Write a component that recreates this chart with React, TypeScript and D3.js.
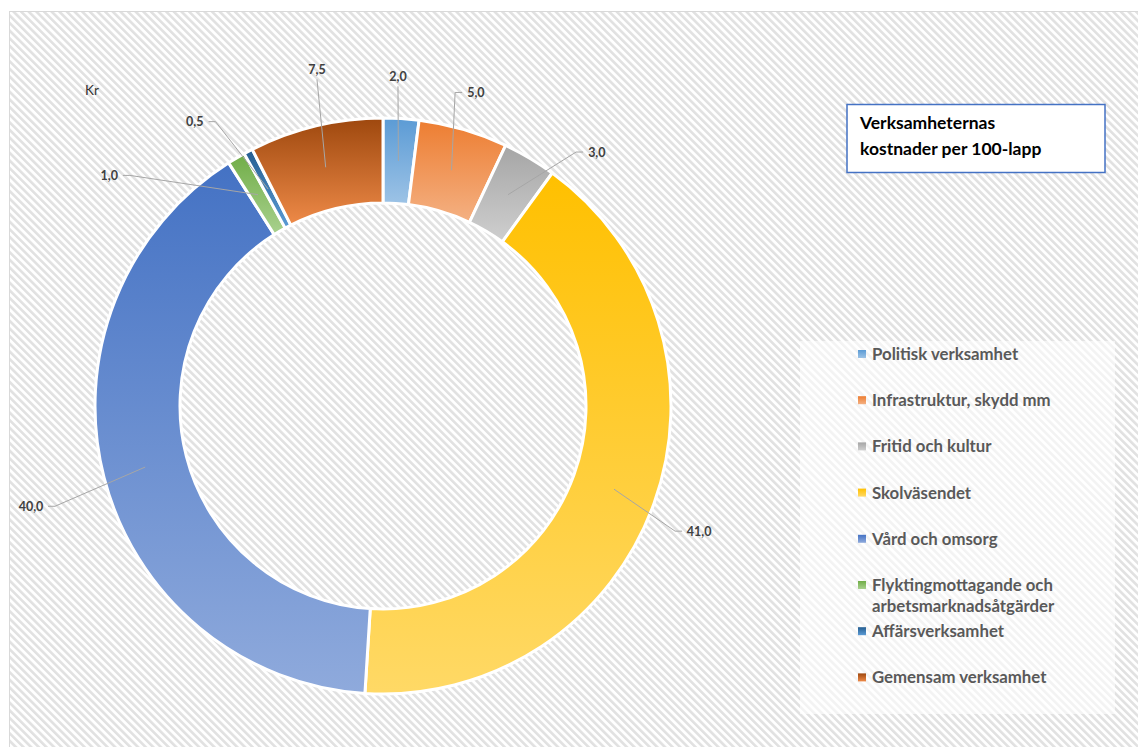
import React from "react";
import * as d3 from "d3";

// ---- data ----
const categories = [
  "Politisk verksamhet",
  "Infrastruktur, skydd mm",
  "Fritid och kultur",
  "Skolväsendet",
  "Vård och omsorg",
  "Flyktingmottagande och arbetsmarknadsåtgärder",
  "Affärsverksamhet",
  "Gemensam verksamhet",
];
const values = [2.0, 5.0, 3.0, 41.0, 40.0, 1.0, 0.5, 7.5];
const title = ["Verksamheternas", "kostnader per 100-lapp"];
const unitLabel = "Kr";

// ---- styling ----
const colorTop = ["#5B9BD5", "#ED7D31", "#A5A5A5", "#FFC000", "#4472C4", "#70AD47", "#255E91", "#9E480E"];
const colorBottom = ["#9DC3E6", "#F4B183", "#CFCFCF", "#FFD966", "#8FAADC", "#A9D18E", "#5B9BD5", "#EE8A48"];

// label layout (angle shift in degrees relative to slice middle, radius from centre)
const labelAngleShift = [-1.0, 0.3, 9.5, 1.8, -1.5, -19.3, -5.6, 2.4];
const labelRadius = [330, 327, 332, 340, 366, 358, 341, 343];

const W = 1138;
const H = 747;
const cx = 383;
const cy = 406;
const outerR = 288;
const innerR = 203;

const fmt = (v: number) => v.toFixed(1).replace(".", ",");

function wrap(text: string, maxChars: number): string[] {
  const words = text.split(" ");
  const lines: string[] = [];
  let cur = "";
  for (const w of words) {
    const next = cur ? cur + " " + w : w;
    if (next.length > maxChars && cur) {
      lines.push(cur);
      cur = w;
    } else cur = next;
  }
  if (cur) lines.push(cur);
  return lines;
}

export default function App() {
  const pie = d3
    .pie<number>()
    .sort(null)
    .value((d) => d)
    .startAngle(0)
    .endAngle(2 * Math.PI);
  const arcs = pie(values);
  const arc = d3.arc<d3.PieArcDatum<number>>().innerRadius(innerR).outerRadius(outerR);
  const midArc = d3
    .arc<d3.PieArcDatum<number>>()
    .innerRadius((innerR + outerR) / 2)
    .outerRadius((innerR + outerR) / 2);

  const labelFont = "Lato, 'Open Sans', sans-serif";

  return (
    <svg
      width={W}
      height={H}
      viewBox={`0 0 ${W} ${H}`}
      style={{ position: "absolute", left: 0, top: 0, background: "#fff" }}
    >
      <defs>
        <pattern
          id="stripes"
          width="5.4"
          height="10"
          patternUnits="userSpaceOnUse"
          patternTransform="rotate(-45)"
        >
          <rect width="5.4" height="10" fill="#ffffff" />
          <rect width="2.6" height="10" fill="#e1e1e1" />
        </pattern>
        {values.map((_, i) => (
          <linearGradient key={i} id={`g${i}`} x1="0" y1="0" x2="0" y2="1">
            <stop offset="0" stopColor={colorTop[i]} />
            <stop offset="1" stopColor={colorBottom[i]} />
          </linearGradient>
        ))}
      </defs>

      {/* chart area */}
      <rect x={9.5} y={11.5} width={1140} height={750} fill="url(#stripes)" stroke="#d9d9d9" strokeWidth={1} />

      {/* donut */}
      <g transform={`translate(${cx},${cy})`}>
        {arcs.map((a, i) => (
          <path key={i} d={arc(a) || ""} fill={`url(#g${i})`} stroke="#ffffff" strokeWidth={3} strokeLinejoin="round" />
        ))}
      </g>

      {/* data labels + leader lines */}
      <g transform={`translate(${cx},${cy})`}>
        {arcs.map((a, i) => {
          const mid = (a.startAngle + a.endAngle) / 2;
          const [sx, sy] = midArc.centroid(a);
          const ang = mid + (labelAngleShift[i] * Math.PI) / 180;
          const lx = labelRadius[i] * Math.sin(ang);
          const ly = -labelRadius[i] * Math.cos(ang);
          const txt = fmt(values[i]);
          const hw = (txt.length * 6.5) / 2;
          let pts: [number, number][];
          if (Math.abs(Math.sin(ang)) < 0.22 && ly < 0) {
            pts = [
              [sx, sy],
              [lx, ly + 10],
            ];
          } else if (lx > 0) {
            pts = [
              [sx, sy],
              [lx - hw - 11, ly],
              [lx - hw - 4, ly],
            ];
          } else {
            pts = [
              [sx, sy],
              [lx + hw + 11, ly],
              [lx + hw + 4, ly],
            ];
          }
          const line = d3.line()(pts) || "";
          return (
            <g key={i}>
              <path d={line} fill="none" stroke="#a6a6a6" strokeWidth={1} />
              <text
                x={lx}
                y={ly}
                dy="0.36em"
                textAnchor="middle"
                fontFamily={labelFont}
                fontWeight={700}
                fontSize={12.5}
                fill="#404040"
              >
                {txt}
              </text>
            </g>
          );
        })}
      </g>

      {/* unit label */}
      <text x={85} y={95} fontFamily={labelFont} fontSize={13.5} fill="#333">
        {unitLabel}
      </text>

      {/* title box */}
      <rect x={847} y={104.5} width={258} height={68} fill="#ffffff" stroke="#4472C4" strokeWidth={1.5} />
      {title.map((t, i) => (
        <text key={i} x={860} y={129 + i * 26} fontFamily={labelFont} fontWeight={700} fontSize={17.5} fill="#000">
          {t}
        </text>
      ))}

      {/* legend */}
      <rect x={800} y={341} width={315} height={373} fill="#ffffff" opacity={0.6} />
      {categories.map((c, i) => {
        const y = 354 + i * 46.2;
        const lines = wrap(c, 24);
        return (
          <g key={i}>
            <rect x={858} y={y - 4} width={8} height={8} fill={`url(#g${i})`} />
            {lines.map((l, j) => (
              <text
                key={j}
                x={872}
                y={y + j * 21}
                dy="0.36em"
                fontFamily={labelFont}
                fontWeight={700}
                fontSize={16.8}
                fill="#595959"
              >
                {l}
              </text>
            ))}
          </g>
        );
      })}
    </svg>
  );
}
